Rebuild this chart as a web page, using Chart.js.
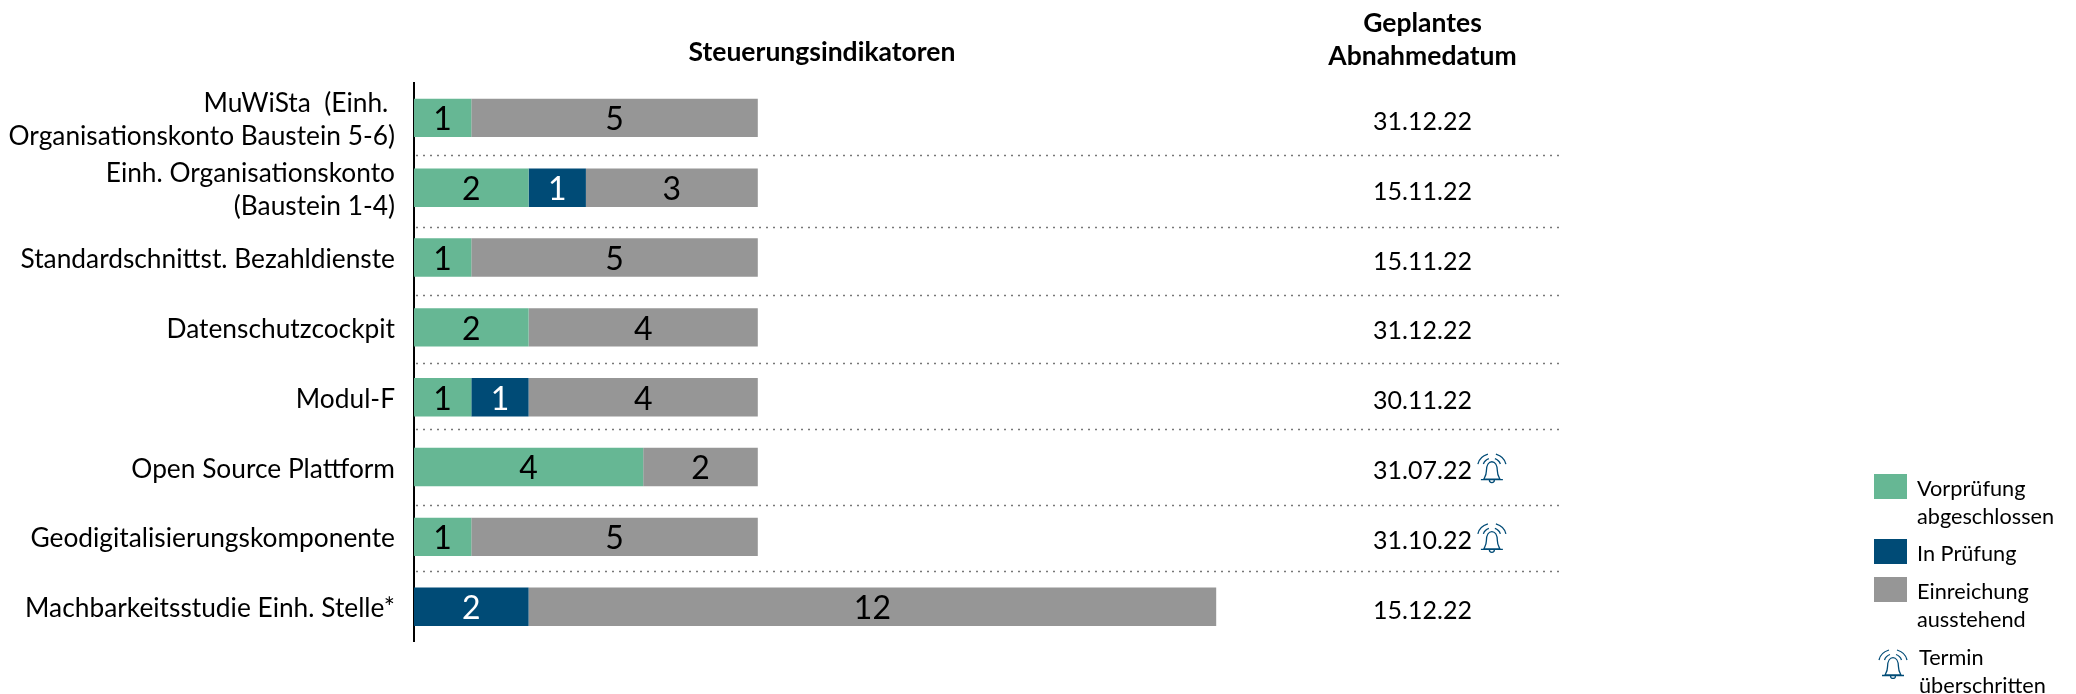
<!DOCTYPE html>
<html lang="de">
<head>
<meta charset="utf-8">
<title>Steuerungsindikatoren</title>
<script src="https://cdn.jsdelivr.net/npm/chart.js@4"></script>
<style>
  html, body { margin: 0; padding: 0; background: #fff; }
  #wrap { position: relative; width: 2076px; height: 694px; overflow: hidden; }
  #legend { position: absolute; left: 0; top: 0; font: 21.7px Lato, sans-serif; color: #000; }
  #legend div { position: absolute; line-height: 28px; white-space: nowrap; }
  #legend i { position: absolute; width: 33px; height: 25px; }
  #legend svg { position: absolute; width: 30px; height: 30px; }
</style>
</head>
<body>
<div id="wrap">
  <canvas id="chart" width="2076" height="694"></canvas>
  <div id="legend"></div>
</div>
<script>
const categories = [
  ['MuWiSta  (Einh. ', 'Organisationskonto Baustein 5-6)'],
  ['Einh. Organisationskonto', '(Baustein 1-4)'],
  'Standardschnittst. Bezahldienste',
  'Datenschutzcockpit',
  'Modul-F',
  'Open Source Plattform',
  'Geodigitalisierungskomponente',
  'Machbarkeitsstudie Einh. Stelle*'
];
const vorpruefung = [1, 2, 1, 2, 1, 4, 1, 0];
const inPruefung = [0, 1, 0, 0, 1, 0, 0, 2];
const einreichung = [5, 3, 5, 4, 4, 2, 5, 12];
const dates = ['31.12.22', '15.11.22', '15.11.22', '31.12.22', '30.11.22', '31.07.22', '31.10.22', '15.12.22'];
const overdue = [false, false, false, false, false, true, true, false];
// separators are not exactly between the rows in the original
const separators = [0.53, 1.557, 2.536, 3.514, 4.46, 5.54, 6.494];

const GREEN = '#66b794';
const BLUE = '#004b76';
const GREY = '#969696';
const FONT = 'Lato, sans-serif';

const BELL = 'M7 26C8 24 9.5 22 9.5 18C9.5 12 12 8.7 15 8.7C18 8.7 20.5 12 20.5 18C20.5 22 22 24 23 26Z' +
  'M4 26.5H26M12.5 27A2.5 2.5 0 0 0 17.5 27' +
  'M6.5 11C7.5 8 9.5 6.3 12 5.5M23.5 11C22.5 8 20.5 6.3 18 5.5' +
  'M1 11C2 6 6 2.5 11 1M29 11C28 6 24 2.5 19 1';

const overlay = {
  id: 'overlay',
  afterDatasetsDraw(chart) {
    const { ctx, scales: { x, y } } = chart;
    ctx.save();

    // separators
    ctx.strokeStyle = '#777';
    ctx.lineWidth = 1.5;
    ctx.setLineDash([2, 5]);
    separators.forEach((s) => {
      const py = Math.round(y.getPixelForValue(s)) + 0.5;
      ctx.beginPath();
      ctx.moveTo(x.left + 2, py);
      ctx.lineTo(x.right + 2, py);
      ctx.stroke();
    });
    ctx.setLineDash([]);

    // numbers in the bars
    ctx.textAlign = 'center';
    ctx.textBaseline = 'middle';
    ctx.font = '32px ' + FONT;
    chart.data.datasets.forEach((ds, d) => {
      chart.getDatasetMeta(d).data.forEach((bar, i) => {
        if (!ds.data[i]) return;
        ctx.fillStyle = ds.backgroundColor === BLUE ? '#fff' : '#000';
        ctx.fillText(ds.data[i], (bar.x + bar.base) / 2, bar.y + 2);
      });
    });

    // date column
    const dateX = x.getPixelForValue(17.6);
    ctx.fillStyle = '#000';
    ctx.font = '25px ' + FONT;
    dates.forEach((d, i) => {
      const py = y.getPixelForValue(i) + 4;
      ctx.fillText(d, dateX, py);
      if (overdue[i]) {
        ctx.save();
        ctx.translate(dateX + 54.4, py - 18);
        ctx.strokeStyle = BLUE;
        ctx.lineWidth = 1.3;
        ctx.stroke(new Path2D(BELL));
        ctx.restore();
      }
    });

    // column headers
    ctx.font = 'bold 26.5px ' + FONT;
    ctx.fillText('Steuerungsindikatoren', x.getPixelForValue(7.12), 52);
    ctx.fillText('Geplantes', dateX, 23);
    ctx.fillText('Abnahmedatum', dateX, 56);
    ctx.restore();
  }
};

const chart = new Chart(document.getElementById('chart'), {
  type: 'bar',
  data: {
    labels: categories,
    datasets: [
      { label: ['Vorprüfung', 'abgeschlossen'], data: vorpruefung, backgroundColor: GREEN },
      { label: ['In Prüfung'], data: inPruefung, backgroundColor: BLUE },
      { label: ['Einreichung', 'ausstehend'], data: einreichung, backgroundColor: GREY }
    ]
  },
  options: {
    indexAxis: 'y',
    responsive: false,
    animation: false,
    layout: { padding: { top: 83, bottom: 52, right: 516 } },
    datasets: { bar: { categoryPercentage: 0.55, barPercentage: 1 } },
    plugins: { legend: { display: false }, tooltip: { enabled: false } },
    scales: {
      x: { stacked: true, display: false, min: 0, max: 20 },
      y: {
        stacked: true,
        afterFit(scale) { scale.width = 414; },
        grid: { display: false, drawTicks: false },
        border: { display: true, color: '#000', width: 2 },
        ticks: {
          color: '#000',
          padding: 19,
          labelOffset: 2,
          autoSkip: false,
          font: { family: FONT, size: 26.3, lineHeight: 1.27 }
        }
      }
    }
  },
  plugins: [overlay]
});

// legend as html, built from the datasets
const legend = document.getElementById('legend');
const swatchTops = [474, 539, 577];
chart.data.datasets.forEach((ds, i) => {
  const sw = document.createElement('i');
  sw.style.cssText = `left:1874px;top:${swatchTops[i]}px;background:${ds.backgroundColor}`;
  legend.appendChild(sw);
  const txt = document.createElement('div');
  txt.style.cssText = `left:1917px;top:${swatchTops[i]}px`;
  txt.innerHTML = ds.label.join('<br>');
  legend.appendChild(txt);
});
legend.insertAdjacentHTML('beforeend',
  `<svg viewBox="0 0 30 30" style="left:1878px;top:649px" fill="none" stroke="${BLUE}" stroke-width="1.3"><path d="${BELL}"/></svg>` +
  '<div style="left:1919px;top:643px">Termin<br>überschritten</div>');
</script>
</body>
</html>
